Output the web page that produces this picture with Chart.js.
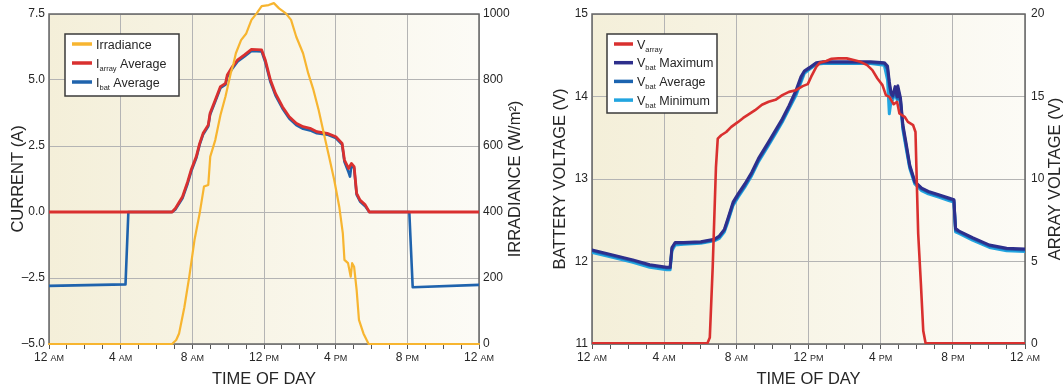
<!DOCTYPE html>
<html>
<head>
<meta charset="utf-8">
<script src="https://cdn.jsdelivr.net/npm/chart.js@4.4.1/dist/chart.umd.min.js"></script>
<style>
  html, body { margin: 0; padding: 0; background: #fff; }
  #wrap { position: relative; width: 1064px; height: 390px; overflow: hidden; }
  canvas { position: absolute; top: 0; }
</style>
</head>
<body>
<div id="wrap">
  <canvas id="current" width="532" height="390" style="left:0"></canvas>
  <canvas id="voltage" width="532" height="390" style="left:532px"></canvas>
</div>
<script>
// ---- time axis labels ----
const hourTicks = [0, 4, 8, 12, 16, 20, 24];
const hourLabels = ['12', '4', '8', '12', '4', '8', '12'];
const meridiemLabels = ['AM', 'AM', 'AM', 'PM', 'PM', 'PM', 'AM'];

// ---- left panel: currents and irradiance ----
const irrHours  = [0, 6.87, 7.10, 7.26, 7.55, 7.83, 8.12, 8.41, 8.65, 8.89, 9.00, 9.28, 9.57, 9.85, 10.14, 10.30, 10.43, 10.72, 11.01, 11.30, 11.59, 11.87, 12.26, 12.55, 12.84, 13.22, 13.51, 13.80, 14.18, 14.47, 14.76, 15.05, 15.34, 15.63, 15.92, 16.20, 16.40, 16.49, 16.69, 16.84, 16.92, 17.03, 17.17, 17.30, 17.55, 17.84, 24];
const irradiance = [0, 0, 12, 32, 110, 204, 315, 396, 477, 482, 568, 618, 694, 750, 820, 850, 881, 921, 941, 982, 1002, 1024, 1027, 1033, 1017, 1002, 982, 931, 881, 820, 770, 709, 638, 568, 497, 416, 335, 255, 245, 204, 245, 234, 164, 73, 32, 0, 0];

const arrayHours = [0, 6.87, 7.06, 7.45, 7.74, 7.93, 8.22, 8.41, 8.60, 8.89, 8.99, 9.28, 9.57, 9.85, 9.95, 10.24, 10.53, 10.91, 11.30, 11.87, 12.07, 12.36, 12.64, 13.03, 13.41, 13.80, 14.18, 14.57, 14.95, 15.53, 16.01, 16.36, 16.49, 16.72, 16.88, 17.03, 17.17, 17.36, 17.65, 17.88, 24];
const iArrayAvg  = [0, 0, 0.14, 0.58, 1.15, 1.59, 2.10, 2.60, 2.98, 3.30, 3.74, 4.24, 4.75, 4.87, 5.19, 5.51, 5.76, 5.95, 6.16, 6.14, 5.76, 5.00, 4.49, 3.99, 3.61, 3.36, 3.23, 3.17, 3.04, 2.98, 2.85, 2.60, 1.97, 1.65, 1.84, 1.72, 0.71, 0.45, 0.27, 0, 0];

const batHours  = [0, 4.27, 4.43, 6.87, 7.06, 7.45, 7.74, 7.93, 8.22, 8.41, 8.60, 8.89, 8.99, 9.28, 9.57, 9.85, 9.95, 10.24, 10.53, 10.91, 11.30, 11.87, 12.07, 12.36, 12.64, 13.03, 13.41, 13.80, 14.18, 14.57, 14.95, 15.53, 16.01, 16.36, 16.49, 16.72, 16.80, 16.88, 17.03, 17.17, 17.36, 17.65, 17.88, 20.11, 20.30, 24];
const iBatAvg   = [-2.80, -2.74, 0, 0, 0.10, 0.52, 1.08, 1.52, 2.04, 2.55, 2.93, 3.25, 3.68, 4.18, 4.70, 4.82, 5.12, 5.44, 5.70, 5.89, 6.10, 6.08, 5.68, 4.92, 4.42, 3.92, 3.54, 3.29, 3.15, 3.09, 2.98, 2.93, 2.80, 2.55, 1.90, 1.50, 1.34, 1.78, 1.66, 0.66, 0.40, 0.22, 0, 0, -2.85, -2.76];

// ---- right panel: array and battery voltages ----
const vArrayHours = [0, 6.40, 6.53, 6.69, 6.87, 6.97, 7.16, 7.44, 7.72, 8.10, 8.38, 8.66, 9.04, 9.42, 9.79, 10.17, 10.55, 10.92, 11.30, 11.68, 11.96, 12.15, 12.43, 12.62, 12.99, 13.28, 13.65, 14.12, 14.50, 14.88, 15.25, 15.54, 15.82, 16.10, 16.29, 16.48, 16.72, 16.91, 17.04, 17.33, 17.51, 17.80, 17.93, 17.98, 18.08, 18.23, 18.36, 18.49, 24];
const vArray      = [0.05, 0.05, 0.4, 4.66, 10.7, 12.45, 12.65, 12.85, 13.16, 13.46, 13.7, 13.9, 14.17, 14.5, 14.68, 14.8, 15.08, 15.28, 15.38, 15.63, 15.75, 16.2, 16.8, 17.04, 17.15, 17.29, 17.31, 17.31, 17.21, 17.1, 16.9, 16.6, 16.09, 15.69, 15.08, 14.98, 14.53, 14.68, 13.97, 13.77, 13.46, 13.26, 12.85, 10.73, 6.68, 3.64, 0.8, 0.05, 0.05];

const vBatHours = [0, 1.13, 2.26, 3.20, 4.14, 4.33, 4.43, 4.61, 5.08, 6.03, 6.78, 7.06, 7.34, 7.53, 7.82, 8.10, 8.47, 8.85, 9.23, 9.79, 10.17, 10.55, 10.92, 11.30, 11.58, 11.77, 12.05, 12.43, 12.81, 13.56, 14.50, 15.44, 16.20, 16.38, 16.48, 16.58, 16.67, 16.80, 16.91, 16.95, 17.10, 17.23, 17.42, 17.61, 17.89, 18.27, 18.64, 19.21, 19.77, 20.06, 20.15, 20.34, 21.09, 22.03, 22.98, 24];
const vBatMax = [12.14, 12.08, 12.02, 11.96, 11.93, 11.93, 12.17, 12.23, 12.23, 12.24, 12.27, 12.31, 12.39, 12.52, 12.72, 12.82, 12.94, 13.08, 13.25, 13.45, 13.59, 13.73, 13.89, 14.07, 14.24, 14.31, 14.35, 14.41, 14.42, 14.42, 14.42, 14.42, 14.41, 14.37, 14.18, 14.04, 14.01, 14.12, 14.00, 14.13, 13.98, 13.66, 13.42, 13.17, 12.97, 12.89, 12.85, 12.81, 12.77, 12.75, 12.40, 12.37, 12.29, 12.20, 12.16, 12.15];
const vBatAvg = [12.13, 12.07, 12.01, 11.95, 11.92, 11.92, 12.15, 12.22, 12.22, 12.23, 12.26, 12.30, 12.38, 12.50, 12.70, 12.80, 12.92, 13.06, 13.23, 13.43, 13.57, 13.71, 13.87, 14.04, 14.20, 14.30, 14.34, 14.40, 14.41, 14.41, 14.41, 14.41, 14.40, 14.33, 14.14, 14.02, 13.99, 14.08, 13.98, 14.10, 13.95, 13.63, 13.39, 13.15, 12.96, 12.88, 12.84, 12.80, 12.76, 12.74, 12.38, 12.36, 12.28, 12.19, 12.15, 12.14];
const vBatMin = [12.11, 12.05, 11.99, 11.93, 11.90, 11.90, 12.13, 12.20, 12.21, 12.22, 12.25, 12.28, 12.36, 12.48, 12.68, 12.78, 12.90, 13.04, 13.21, 13.41, 13.55, 13.69, 13.85, 14.01, 14.17, 14.28, 14.33, 14.39, 14.40, 14.40, 14.40, 14.40, 14.38, 14.20, 13.79, 13.95, 13.96, 14.05, 13.96, 14.06, 13.92, 13.60, 13.36, 13.13, 12.94, 12.86, 12.82, 12.78, 12.74, 12.72, 12.36, 12.34, 12.26, 12.17, 12.13, 12.12];

// ---- styling ----
const FONT = "'Liberation Sans', Arial, Helvetica, sans-serif";
const TEXT = '#262626';
const GRID = '#b4b4b4';
const FRAME = '#666666';
const ORANGE = '#f7b530';
const RED = '#d9302f';
const BLUE = '#1f63ad';
const NAVY = '#2e2f8c';
const MIDBLUE = '#1c64b0';
const SKY = '#22a5e0';
const TITLE_SIZE = 16.5;

const pts = (xs, ys) => xs.map((x, i) => ({ x, y: ys[i] }));

// plot background (soft left-to-right tint), frame and upward-reading right axis title
const panelPlugin = {
  id: 'panel',
  beforeDraw(chart) {
    const { ctx, chartArea: a } = chart;
    const g = ctx.createLinearGradient(a.left, 0, a.right, 0);
    g.addColorStop(0, '#f4efd9');
    g.addColorStop(1, '#fcfbf6');
    ctx.save();
    ctx.fillStyle = g;
    ctx.fillRect(a.left, a.top, a.right - a.left, a.bottom - a.top);
    ctx.restore();
  },
  beforeDatasetsDraw(chart) {
    const { ctx, chartArea: a } = chart;
    ctx.save();
    ctx.strokeStyle = FRAME;
    ctx.lineWidth = 1.5;
    ctx.strokeRect(a.left, a.top, a.right - a.left, a.bottom - a.top);
    ctx.restore();
  },
  afterDraw(chart, args, opts) {
    if (!opts.rightTitle) return;
    const { ctx, chartArea: a } = chart;
    ctx.save();
    ctx.translate(opts.rightTitleX, (a.top + a.bottom) / 2);
    ctx.rotate(-Math.PI / 2);
    ctx.fillStyle = TEXT;
    ctx.font = `${TITLE_SIZE}px ${FONT}`;
    ctx.textAlign = 'center';
    ctx.textBaseline = 'middle';
    ctx.fillText(opts.rightTitle, 0, 0);
    ctx.restore();
  }
};

// hour labels with small-caps style meridiem
const timeLabelPlugin = {
  id: 'timeLabels',
  afterDraw(chart) {
    const s = chart.scales.x, ctx = chart.ctx;
    const base = chart.chartArea.bottom + 17;
    ctx.save();
    ctx.fillStyle = TEXT;
    ctx.textBaseline = 'alphabetic';
    ctx.textAlign = 'left';
    hourTicks.forEach((h, i) => {
      const x = s.getPixelForValue(h);
      ctx.font = `12px ${FONT}`;
      const w1 = ctx.measureText(hourLabels[i]).width;
      ctx.font = `9px ${FONT}`;
      const w2 = ctx.measureText(meridiemLabels[i]).width;
      const gap = 3;
      const x0 = x - (w1 + gap + w2) / 2;
      ctx.font = `12px ${FONT}`;
      ctx.fillText(hourLabels[i], x0, base);
      ctx.font = `9px ${FONT}`;
      ctx.fillText(meridiemLabels[i], x0 + w1 + gap, base);
    });
    ctx.restore();
  }
};

// boxed legend with subscripted symbols
const boxLegendPlugin = {
  id: 'boxLegend',
  afterDraw(chart, args, opts) {
    const ctx = chart.ctx;
    ctx.save();
    ctx.fillStyle = '#ffffff';
    ctx.fillRect(opts.x, opts.y, opts.w, opts.h);
    ctx.strokeStyle = '#3a3a3a';
    ctx.lineWidth = 1.5;
    ctx.strokeRect(opts.x, opts.y, opts.w, opts.h);
    opts.items.forEach((it, i) => {
      const ds = chart.data.datasets[it.dataset];
      const cy = opts.firstRow + i * opts.rowStep;
      ctx.strokeStyle = ds.borderColor;
      ctx.lineWidth = 3.5;
      ctx.beginPath();
      ctx.moveTo(opts.lineX0, cy);
      ctx.lineTo(opts.lineX1, cy);
      ctx.stroke();
      let x = opts.textX;
      const base = cy + 4.5;
      ctx.fillStyle = TEXT;
      ctx.textAlign = 'left';
      ctx.textBaseline = 'alphabetic';
      ctx.font = `12.5px ${FONT}`;
      ctx.fillText(it.main, x, base);
      x += ctx.measureText(it.main).width;
      if (it.sub) {
        ctx.font = `7.5px ${FONT}`;
        ctx.fillText(it.sub, x, base + 3);
        x += ctx.measureText(it.sub).width;
      }
      if (it.rest) {
        ctx.font = `12.5px ${FONT}`;
        ctx.fillText(it.rest, x, base);
      }
    });
    ctx.restore();
  }
};

function timeScale() {
  return {
    type: 'linear',
    min: 0,
    max: 24,
    ticks: { stepSize: 1, autoSkip: false, maxRotation: 0, callback: () => '' },
    grid: {
      color: c => (c.tick && hourTicks.includes(c.tick.value)) ? GRID : 'rgba(0,0,0,0)',
      tickColor: '#555',
      tickLength: 5,
      lineWidth: 1
    },
    border: { display: false },
    title: {
      display: true, text: 'TIME OF DAY', color: TEXT,
      font: { family: FONT, size: TITLE_SIZE },
      padding: { top: 0, bottom: 1 }
    },
    afterFit: s => { s.height = 46; }
  };
}

function valueScale(position, min, max, step, title, width, titlePad, tickPad, fmt, grid) {
  return {
    type: 'linear',
    position,
    min, max,
    ticks: {
      stepSize: step, color: TEXT, padding: tickPad,
      font: { family: FONT, size: 12 },
      callback: fmt
    },
    grid: grid ? { color: GRID, lineWidth: 1, drawTicks: false } : { drawOnChartArea: false, drawTicks: false },
    border: { display: false },
    title: {
      display: !!title, text: title || '', color: TEXT,
      font: { family: FONT, size: TITLE_SIZE },
      padding: { top: titlePad, bottom: 0 }
    },
    afterFit: s => { s.width = width; }
  };
}

const baseOptions = {
  responsive: false,
  animation: false,
  layout: { padding: { top: 14, left: 0, right: 0, bottom: 0 } },
  elements: {
    point: { radius: 0 },
    line: { tension: 0, borderJoinStyle: 'round', borderCapStyle: 'round' }
  }
};

const fmtCurrent = v => (v < 0 ? '\u2013' + Math.abs(v).toFixed(1) : v.toFixed(1));

new Chart(document.getElementById('current'), {
  type: 'line',
  data: {
    datasets: [
      { label: 'Irradiance', data: pts(irrHours, irradiance), yAxisID: 'yIrr', borderColor: ORANGE, borderWidth: 2.2, clip: false, order: 0 },
      { label: 'I array Average', data: pts(arrayHours, iArrayAvg), yAxisID: 'y', borderColor: RED, borderWidth: 2.8, order: 1 },
      { label: 'I bat Average', data: pts(batHours, iBatAvg), yAxisID: 'y', borderColor: BLUE, borderWidth: 2.6, order: 2 }
    ]
  },
  options: {
    ...baseOptions,
    scales: {
      x: timeScale(),
      y: valueScale('left', -5, 7.5, 2.5, 'CURRENT (A)', 49, 9, 4, fmtCurrent, true),
      yIrr: valueScale('right', 0, 1000, 200, null, 53, 0, 4, v => String(v), false)
    },
    plugins: {
      legend: { display: false },
      tooltip: { enabled: false },
      panel: { rightTitle: 'IRRADIANCE (W/m\u00B2)', rightTitleX: 515 },
      boxLegend: {
        x: 65, y: 34, w: 114, h: 62,
        firstRow: 44, rowStep: 19, lineX0: 72, lineX1: 92, textX: 96,
        items: [
          { dataset: 0, main: 'Irradiance' },
          { dataset: 1, main: 'I', sub: 'array', rest: ' Average' },
          { dataset: 2, main: 'I', sub: 'bat', rest: ' Average' }
        ]
      }
    }
  },
  plugins: [panelPlugin, timeLabelPlugin, boxLegendPlugin]
});

new Chart(document.getElementById('voltage'), {
  type: 'line',
  data: {
    datasets: [
      { label: 'V array', data: pts(vArrayHours, vArray), yAxisID: 'yArr', borderColor: RED, borderWidth: 2.6, order: 0 },
      { label: 'V bat Maximum', data: pts(vBatHours, vBatMax), yAxisID: 'y', borderColor: NAVY, borderWidth: 3, order: 1 },
      { label: 'V bat Average', data: pts(vBatHours, vBatAvg), yAxisID: 'y', borderColor: MIDBLUE, borderWidth: 3, order: 2 },
      { label: 'V bat Minimum', data: pts(vBatHours, vBatMin), yAxisID: 'y', borderColor: SKY, borderWidth: 3, order: 3 }
    ]
  },
  options: {
    ...baseOptions,
    scales: {
      x: timeScale(),
      y: valueScale('left', 11, 15, 1, 'BATTERY VOLTAGE (V)', 60, 19, 4, v => String(v), true),
      yArr: valueScale('right', 0, 20, 5, null, 39, 0, 6, v => String(v), false)
    },
    plugins: {
      legend: { display: false },
      tooltip: { enabled: false },
      panel: { rightTitle: 'ARRAY VOLTAGE (V)', rightTitleX: 523 },
      boxLegend: {
        x: 75, y: 34, w: 110, h: 79,
        firstRow: 44, rowStep: 18.7, lineX0: 82, lineX1: 101, textX: 105,
        items: [
          { dataset: 0, main: 'V', sub: 'array' },
          { dataset: 1, main: 'V', sub: 'bat', rest: ' Maximum' },
          { dataset: 2, main: 'V', sub: 'bat', rest: ' Average' },
          { dataset: 3, main: 'V', sub: 'bat', rest: ' Minimum' }
        ]
      }
    }
  },
  plugins: [panelPlugin, timeLabelPlugin, boxLegendPlugin]
});
</script>
</body>
</html>
